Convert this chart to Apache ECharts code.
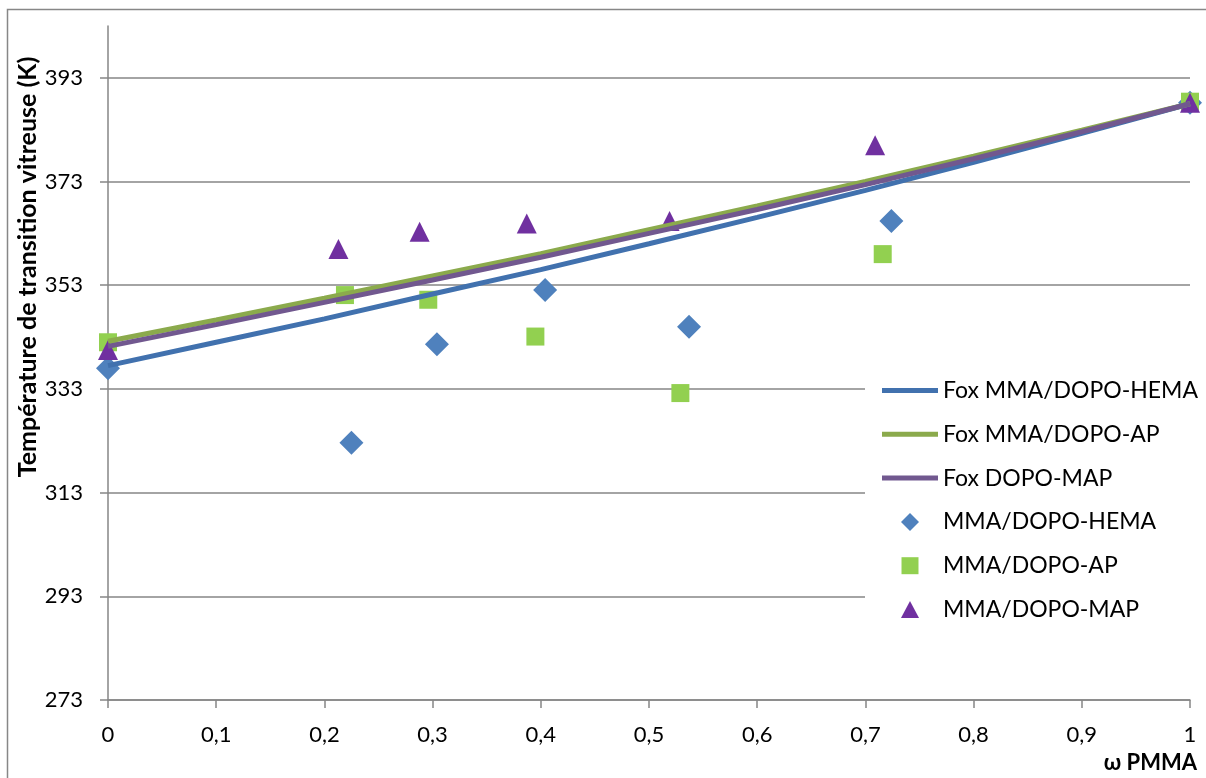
<!DOCTYPE html>
<html>
<head>
<meta charset="utf-8">
<script src="https://cdn.jsdelivr.net/npm/echarts@6/dist/echarts.min.js"></script>
<style>
html,body{margin:0;padding:0;background:#fff;}
#chart{width:1206px;height:778px;}
</style>
</head>
<body>
<div id="chart"></div>
<script>
// ---- data ----
const foxW = [0, 0.1, 0.2, 0.3, 0.4, 0.5, 0.6, 0.7, 0.8, 0.9, 1];
const foxHEMA = [337.5, 342.0, 346.5, 351.3, 356.0, 361.0, 366.1, 371.3, 376.7, 382.3, 388.0];
const foxAP   = [342.2, 346.3, 350.5, 354.8, 359.1, 363.7, 368.3, 373.0, 377.9, 382.9, 388.0];
const foxMAP  = [341.2, 345.4, 349.7, 354.0, 358.4, 363.0, 367.6, 372.4, 377.4, 382.6, 388.0];

const hemaW  = [0, 0.225, 0.304, 0.404, 0.537, 0.724, 1];
const hemaTg = [337.0, 322.6, 341.6, 352.1, 345.0, 365.4, 388.2];
const apW    = [0, 0.219, 0.296, 0.395, 0.529, 0.716, 1];
const apTg   = [342.0, 351.1, 350.2, 343.1, 332.2, 359.0, 388.4];
const mapW   = [0, 0.213, 0.288, 0.387, 0.519, 0.709, 1];
const mapTg  = [340.5, 360.0, 363.3, 364.9, 365.4, 380.0, 388.2];

const yTicks = [273, 293, 313, 333, 353, 373, 393];
const seriesNames = ['Fox MMA/DOPO-HEMA', 'Fox MMA/DOPO-AP', 'Fox DOPO-MAP',
                     'MMA/DOPO-HEMA', 'MMA/DOPO-AP', 'MMA/DOPO-MAP'];
const yTitle = 'Température de transition vitreuse (K)';
const xTitle = 'ω PMMA';

const zip = (a, b) => a.map((v, i) => [v, b[i]]);
const FONT = 'Lato, "Noto Sans", sans-serif';
const GREY = '#868686';

// legend icons drawn inside a fixed 56x18 box
const BOX = 'path://M0,0M56,18';
const ICON_LINE = BOX + 'M0,6.5L56,6.5L56,11.5L0,11.5Z';
const ICON_DIAMOND = BOX + 'M28,0L37,9L28,18L19,9Z';
const ICON_SQUARE = BOX + 'M19.5,0.5L36.5,0.5L36.5,17.5L19.5,17.5Z';
const ICON_TRIANGLE = BOX + 'M28,0.5L37,17.5L19,17.5Z';
const legendIcons = [ICON_LINE, ICON_LINE, ICON_LINE, ICON_DIAMOND, ICON_SQUARE, ICON_TRIANGLE];

const chart = echarts.init(document.getElementById('chart'));
chart.setOption({
  animation: false,
  backgroundColor: '#fff',
  textStyle: { fontFamily: FONT },
  grid: { left: 108, right: 16, top: 26, bottom: 78, containLabel: false },
  xAxis: {
    type: 'value', min: 0, max: 1, interval: 0.1,
    axisLine: { show: true, lineStyle: { color: GREY, width: 1.5 } },
    axisTick: { show: true, length: 8, lineStyle: { color: GREY, width: 1.5 } },
    splitLine: { show: false },
    axisLabel: {
      margin: 24, color: '#000', fontSize: 22, fontFamily: FONT,
      formatter: v => String(Math.round(v * 10) / 10).replace('.', ',')
    }
  },
  yAxis: {
    type: 'value', min: 273, max: 403, interval: 20,
    axisLine: { show: true, lineStyle: { color: GREY, width: 1.5 } },
    axisTick: { show: true, length: 8, customValues: yTicks, lineStyle: { color: GREY, width: 1.5 } },
    splitLine: { show: true, lineStyle: { color: [GREY, GREY, GREY, GREY, GREY, GREY, GREY, 'rgba(0,0,0,0)'], width: 1.5 } },
    axisLabel: {
      margin: 25, color: '#000', fontSize: 22, fontFamily: FONT,
      customValues: yTicks
    }
  },
  legend: {
    orient: 'vertical', left: 865, top: 365,
    padding: [14, 20, 14, 17],
    backgroundColor: '#fff',
    itemWidth: 56, itemHeight: 18, itemGap: 20.8,
    symbolKeepAspect: true,
    itemStyle: { borderWidth: 0 },
    textStyle: { color: '#000', fontSize: 23, fontFamily: FONT },
    data: seriesNames.map((n, i) => ({ name: n, icon: legendIcons[i] }))
  },
  graphic: [
    { type: 'rect', z: 100, silent: true,
      shape: { x: 7.5, y: 9.5, width: 1400, height: 1000 },
      style: { fill: 'none', stroke: '#878787', lineWidth: 1.5 } },
    { type: 'text', x: 28, y: 267, rotation: Math.PI / 2,
      style: { text: yTitle, fontFamily: FONT, fontWeight: 'bold', fontSize: 25,
               fill: '#000', align: 'center', verticalAlign: 'middle' } },
    { type: 'text', x: 1197, y: 763,
      style: { text: xTitle, fontFamily: FONT, fontWeight: 'bold', fontSize: 22,
               fill: '#000', align: 'right', verticalAlign: 'middle' } }
  ],
  series: [
    { name: seriesNames[0], type: 'line', symbol: 'none', data: zip(foxW, foxHEMA),
      lineStyle: { color: '#4171AE', width: 5 }, itemStyle: { color: '#4171AE' } },
    { name: seriesNames[1], type: 'line', symbol: 'none', data: zip(foxW, foxAP),
      lineStyle: { color: '#8BAA4C', width: 5 }, itemStyle: { color: '#8BAA4C' } },
    { name: seriesNames[2], type: 'line', symbol: 'none', data: zip(foxW, foxMAP),
      lineStyle: { color: '#71588F', width: 5 }, itemStyle: { color: '#71588F' } },
    { name: seriesNames[3], type: 'scatter', symbol: 'diamond', symbolSize: 24,
      data: zip(hemaW, hemaTg), itemStyle: { color: '#4F81BD', opacity: 1 } },
    { name: seriesNames[4], type: 'scatter', symbol: 'rect', symbolSize: 18,
      data: zip(apW, apTg), itemStyle: { color: '#92D050', opacity: 1 } },
    { name: seriesNames[5], type: 'scatter', symbol: 'triangle', symbolSize: [20, 20],
      data: zip(mapW, mapTg), itemStyle: { color: '#7030A0', opacity: 1 } }
  ]
});
</script>
</body>
</html>
